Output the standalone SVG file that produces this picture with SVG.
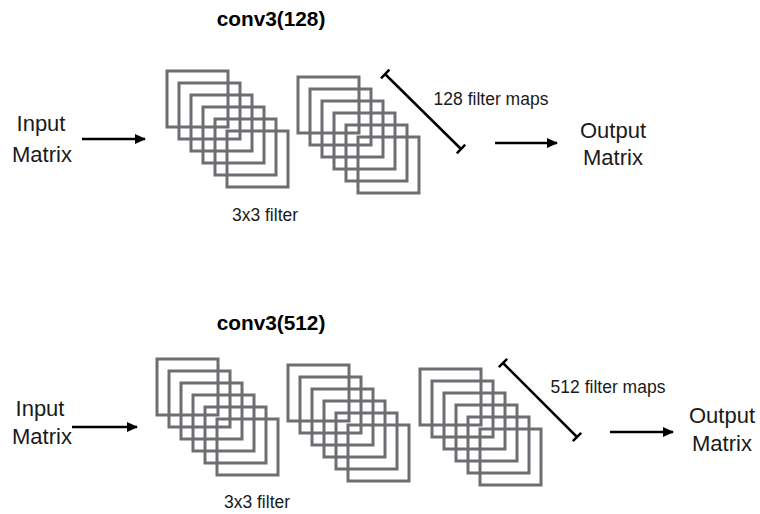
<svg xmlns="http://www.w3.org/2000/svg" width="760" height="514" viewBox="0 0 760 514">
<defs>
<style>
.t{font-family:"Liberation Sans",Arial,sans-serif;fill:#1a1a1a}
.h{font-weight:bold;font-size:20.8px;fill:#000}
.io{font-size:22px}
.s{font-size:17.5px}
.sq{fill:none;stroke:#6d6e71;stroke-width:3}
.bar{stroke:#000;stroke-width:2.5;fill:none}
.arr{stroke:#000;stroke-width:2.5;fill:none}
</style>
<marker id="ah" markerWidth="12" markerHeight="10" refX="10" refY="5" orient="auto" markerUnits="userSpaceOnUse">
<path d="M0,0 L11,5 L0,10 Z" fill="#000"/>
</marker>
<g id="stackA">
<rect class="sq" x="0" y="0" width="61" height="56"/>
<rect class="sq" x="12" y="12" width="61" height="56"/>
<rect class="sq" x="24" y="24" width="61" height="56"/>
<rect class="sq" x="36" y="36" width="61" height="56"/>
<rect class="sq" x="48" y="48" width="61" height="56"/>
<rect class="sq" x="60" y="60" width="61" height="56"/>
</g>
</defs>
<rect width="760" height="514" fill="#fff"/>

<g id="top-title"><text class="t h" x="271" y="26" text-anchor="middle">conv3(128)</text></g>
<g id="top-input"><text class="t io" x="41" y="131" text-anchor="middle">Input</text><text class="t io" x="42" y="162" text-anchor="middle">Matrix</text></g>
<g id="top-stack1"><use href="#stackA" x="167" y="71"/></g>
<g id="top-stack2"><use href="#stackA" x="298" y="77"/></g>
<g id="top-filter-label"><text class="t s" x="265" y="221" text-anchor="middle">3x3 filter</text></g>
<g id="top-maps"><text class="t s" x="491" y="105" text-anchor="middle">128 filter maps</text></g>
<g id="top-output"><text class="t io" x="613" y="138" text-anchor="middle">Output</text><text class="t io" x="613" y="165" text-anchor="middle">Matrix</text></g>

<g id="bot-title"><text class="t h" x="271" y="330" text-anchor="middle">conv3(512)</text></g>
<g id="bot-input"><text class="t io" x="40" y="416" text-anchor="middle">Input</text><text class="t io" x="42" y="444" text-anchor="middle">Matrix</text></g>
<g id="bot-stack1"><use href="#stackA" x="157" y="359"/></g>
<g id="bot-stack2"><use href="#stackA" x="288" y="365"/></g>
<g id="bot-stack3"><use href="#stackA" x="420" y="369"/></g>
<g id="bot-filter-label"><text class="t s" x="257" y="508" text-anchor="middle">3x3 filter</text></g>
<g id="bot-maps"><text class="t s" x="608" y="393" text-anchor="middle">512 filter maps</text></g>
<g id="bot-output"><text class="t io" x="722" y="423" text-anchor="middle">Output</text><text class="t io" x="722" y="451" text-anchor="middle">Matrix</text></g>

<g id="connectors">
<line class="arr" x1="82" y1="139" x2="145" y2="139" marker-end="url(#ah)"/>
<line class="arr" x1="495" y1="143" x2="557" y2="143" marker-end="url(#ah)"/>
<line class="arr" x1="72" y1="427" x2="137" y2="427" marker-end="url(#ah)"/>
<line class="arr" x1="610" y1="432" x2="673" y2="432" marker-end="url(#ah)"/>
<path class="bar" d="M385,74 L461,149 M381,78.3 L389.4,69.7 M456.8,153.3 L465.2,144.7"/>
<path class="bar" d="M503,363 L577,437 M498.8,367.2 L507.2,358.8 M572.8,441.2 L581.2,432.8"/>
</g>
</svg>
